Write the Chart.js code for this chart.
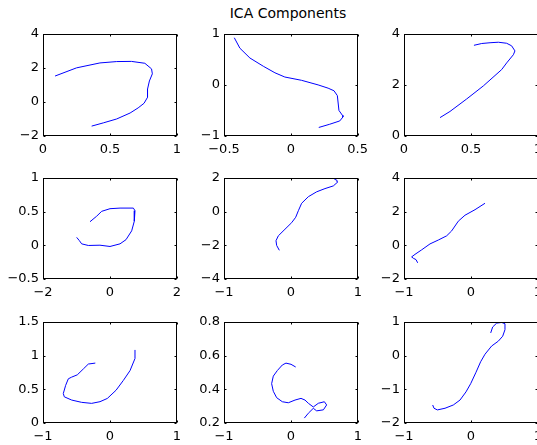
<!DOCTYPE html>
<html>
<head>
<meta charset="utf-8">
<script src="https://cdn.jsdelivr.net/npm/chart.js@4.4.0/dist/chart.umd.min.js"></script>
<style>
html,body{margin:0;padding:0;background:#fff;overflow:hidden;width:537px;height:445px;}
.p{position:absolute;}
#title{position:absolute;left:188px;width:200px;top:5px;text-align:center;font:14px "DejaVu Sans",sans-serif;color:#000;}
</style>
</head>
<body>
<div id="title">ICA Components</div>
<script>
// ---- data ----
const p1x=[0.09,0.25,0.425,0.55,0.66,0.76,0.81,0.816,0.794,0.78,0.78,0.754,0.71,0.65,0.55,0.45,0.363];
const p1y=[1.52,2.0,2.29,2.37,2.38,2.27,1.94,1.65,1.23,0.75,0.27,-0.08,-0.35,-0.65,-1.0,-1.23,-1.42];
const p2x=[-0.423,-0.381,-0.306,-0.206,-0.119,-0.045,0.08,0.204,0.279,0.323,0.348,0.36,0.386,0.39,0.366,0.291,0.209];
const p2y=[0.923,0.718,0.526,0.365,0.237,0.154,0.09,0.0,-0.064,-0.115,-0.21,-0.5,-0.596,-0.628,-0.705,-0.77,-0.833];
const p3x=[0.269,0.343,0.468,0.592,0.729,0.766,0.816,0.828,0.803,0.766,0.704,0.642,0.58,0.522];
const p3y=[0.72,0.96,1.45,1.96,2.6,2.86,3.18,3.33,3.53,3.63,3.67,3.65,3.62,3.55];
const p4x=[-0.597,-0.398,-0.249,0.0,0.299,0.697,0.746,0.726,0.647,0.478,0.299,0.0,-0.299,-0.647,-0.846,-0.915,-0.995];
const p4y=[0.349,0.431,0.503,0.542,0.551,0.551,0.513,0.358,0.214,0.083,0.021,-0.018,0.001,-0.003,0.021,0.069,0.117];
const p5x=[-0.174,-0.214,-0.224,-0.189,-0.09,0.01,0.07,0.11,0.159,0.259,0.383,0.507,0.632,0.697,0.687,0.647];
const p5y=[-2.3,-2.01,-1.73,-1.44,-1.05,-0.66,-0.34,0.05,0.49,0.88,1.17,1.36,1.52,1.75,1.85,1.92];
const p6x=[-0.796,-0.821,-0.861,-0.886,-0.836,-0.736,-0.612,-0.488,-0.363,-0.289,-0.189,-0.09,0.06,0.209];
const p6y=[-1.04,-0.85,-0.77,-0.69,-0.54,-0.27,0.08,0.31,0.56,0.85,1.43,1.78,2.11,2.49];
const p7x=[-0.219,-0.323,-0.398,-0.488,-0.572,-0.622,-0.662,-0.697,-0.682,-0.572,-0.423,-0.274,-0.149,-0.04,0.09,0.199,0.299,0.373,0.373];
const p7y=[0.888,0.874,0.801,0.714,0.68,0.655,0.558,0.437,0.388,0.34,0.306,0.291,0.316,0.364,0.485,0.631,0.777,0.956,1.083];
const p8x=[0.07,0.0,-0.075,-0.129,-0.204,-0.264,-0.289,-0.264,-0.214,-0.129,-0.04,0.06,0.149,0.209,0.259,0.333,0.408,0.498,0.532,0.483,0.383,0.333,0.259,0.199];
const p8y=[0.532,0.548,0.555,0.544,0.511,0.478,0.433,0.388,0.35,0.326,0.32,0.336,0.346,0.336,0.317,0.295,0.317,0.326,0.307,0.278,0.272,0.287,0.258,0.229];
const p9x=[-0.572,-0.552,-0.502,-0.388,-0.264,-0.164,-0.075,-0.005,0.075,0.144,0.209,0.308,0.408,0.473,0.507,0.507,0.458,0.383,0.323,0.294];
const p9y=[-1.466,-1.563,-1.612,-1.563,-1.466,-1.32,-1.078,-0.835,-0.495,-0.184,0.039,0.282,0.427,0.573,0.767,0.942,0.981,0.961,0.845,0.67];

// tick labels
const t1x=[0,0.5,1],   t1y=[-2,0,2,4];
const t2x=[-0.5,0,0.5],t2y=[-1,0,1];
const t3x=[0,0.5,1],   t3y=[0,2,4];
const t4x=[-2,0,2],    t4y=[-0.5,0,0.5,1];
const t5x=[-1,0,1],    t5y=[-4,-2,0,2];
const t6x=[-1,0,1],    t6y=[-2,0,2,4];
const t7x=[-1,0,1],    t7y=[0,0.5,1,1.5];
const t8x=[-1,0,1],    t8y=[0.2,0.4,0.6,0.8];
const t9x=[-1,0,1],    t9y=[-2,-1,0,1];

const panels=[
 {x:p1x,y:p1y,tx:t1x,ty:t1y,L:43,T:32,H:104},
 {x:p2x,y:p2y,tx:t2x,ty:t2y,L:224,T:32,H:104},
 {x:p3x,y:p3y,tx:t3x,ty:t3y,L:404,T:32,H:104},
 {x:p4x,y:p4y,tx:t4x,ty:t4y,L:43,T:176,H:103},
 {x:p5x,y:p5y,tx:t5x,ty:t5y,L:224,T:176,H:103},
 {x:p6x,y:p6y,tx:t6x,ty:t6y,L:404,T:176,H:103},
 {x:p7x,y:p7y,tx:t7x,ty:t7y,L:43,T:320,H:103},
 {x:p8x,y:p8y,tx:t8x,ty:t8y,L:224,T:320,H:103},
 {x:p9x,y:p9y,tx:t9x,ty:t9y,L:404,T:320,H:103}
];

const W=134, PADL=42, PADT=10, PADR=16, PADB=24;
const fmt=v=>String(v).replace('-', '\u2212');

const boxPlugin={
  id:'box',
  afterDraw(chart){
    const {ctx,chartArea:a,scales}=chart;
    const xs=scales.x, ys=scales.y;
    ctx.save();
    ctx.strokeStyle='#000'; ctx.lineWidth=1;
    const L=Math.round(a.left)+0.5, R=Math.round(a.right)-0.5, T=Math.round(a.top)+0.5, B=Math.round(a.bottom)-0.5;
    ctx.strokeRect(L,T,R-L,B-T);
    const tl=2;
    ctx.beginPath();
    xs.ticks.forEach(t=>{const px=Math.round(xs.getPixelForValue(t.value))+0.5;
      ctx.moveTo(px,B); ctx.lineTo(px,B-tl); ctx.moveTo(px,T); ctx.lineTo(px,T+tl);});
    ys.ticks.forEach(t=>{const py=Math.round(ys.getPixelForValue(t.value))+0.5;
      ctx.moveTo(L,py); ctx.lineTo(L+tl,py); ctx.moveTo(R,py); ctx.lineTo(R-tl,py);});
    ctx.stroke(); ctx.restore();
  }
};

panels.forEach((p,i)=>{
  const div=document.createElement('div');
  div.className='p';
  div.style.left=(p.L-PADL)+'px';
  div.style.top=(p.T-PADT)+'px';
  div.style.width=(PADL+W+PADR)+'px';
  div.style.height=(PADT+p.H+PADB)+'px';
  const cv=document.createElement('canvas');
  div.appendChild(cv);
  document.body.appendChild(div);
  const pts=p.x.map((v,k)=>({x:v,y:p.y[k]}));
  const font={family:'"DejaVu Sans", sans-serif',size:13};
  new Chart(cv,{
    type:'scatter',
    data:{datasets:[{data:pts,showLine:true,borderColor:'#0000ff',borderWidth:1,pointRadius:0,fill:false,tension:0}]},
    options:{
      responsive:true,maintainAspectRatio:false,animation:false,
      layout:{padding:{left:0,top:PADT,right:PADR,bottom:0}},
      plugins:{legend:{display:false},tooltip:{enabled:false},title:{display:false}},
      scales:{
        x:{type:'linear',min:p.tx[0],max:p.tx[p.tx.length-1],
           grid:{display:false,drawTicks:false},border:{display:false},
           afterBuildTicks:s=>{s.ticks=p.tx.map(v=>({value:v}));},
           afterFit:s=>{s.height=PADB;},
           ticks:{color:'#000',font,padding:6,maxRotation:0,autoSkip:false,callback:v=>fmt(v)}},
        y:{type:'linear',min:p.ty[0],max:p.ty[p.ty.length-1],
           grid:{display:false,drawTicks:false},border:{display:false},
           afterBuildTicks:s=>{s.ticks=p.ty.map(v=>({value:v}));},
           afterFit:s=>{s.width=PADL;},
           ticks:{color:'#000',font,padding:4,autoSkip:false,callback:v=>fmt(v)}}
      }
    },
    plugins:[boxPlugin]
  });
});
</script>
</body>
</html>
